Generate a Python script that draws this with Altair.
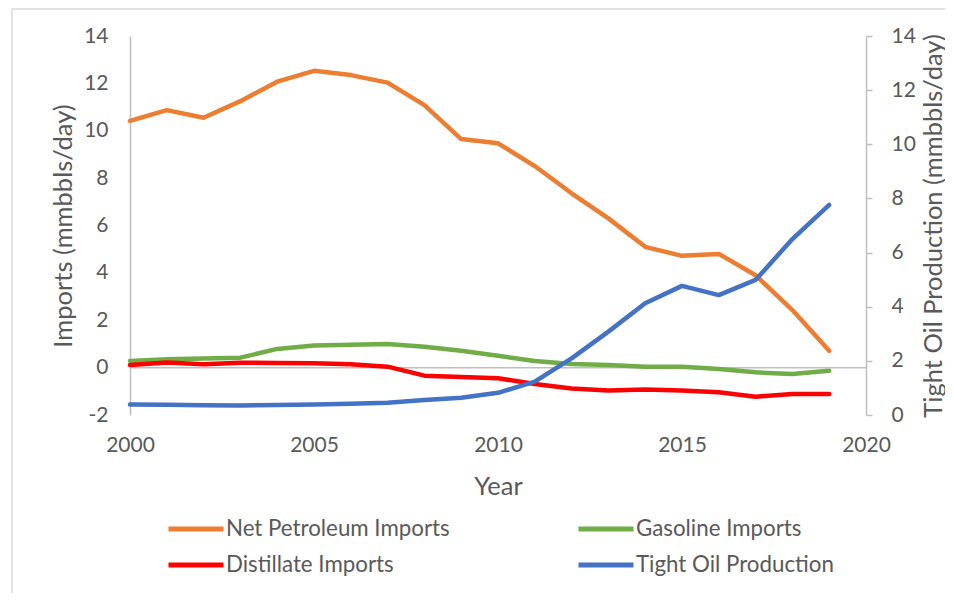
import altair as alt
import pandas as pd

years = list(range(2000, 2020))
net_petroleum = [10.42, 10.87, 10.55, 11.25, 12.07, 12.53, 12.35, 12.03, 11.08, 9.65,
                 9.47, 8.51, 7.36, 6.30, 5.10, 4.72, 4.80, 3.90, 2.43, 0.71]
gasoline = [0.28, 0.35, 0.39, 0.42, 0.79, 0.93, 0.97, 1.00, 0.88, 0.71,
            0.50, 0.28, 0.15, 0.11, 0.04, 0.04, -0.06, -0.20, -0.27, -0.13]
distillate = [0.11, 0.22, 0.14, 0.21, 0.19, 0.18, 0.14, 0.04, -0.34, -0.40,
              -0.45, -0.69, -0.88, -0.97, -0.92, -0.97, -1.04, -1.23, -1.11, -1.11]
tight_oil = [0.39, 0.38, 0.36, 0.35, 0.37, 0.39, 0.42, 0.45, 0.55, 0.64,
             0.82, 1.23, 2.09, 3.08, 4.13, 4.77, 4.43, 4.99, 6.50, 7.76]

series_names = ["Net Petroleum Imports", "Gasoline Imports", "Distillate Imports", "Tight Oil Production"]
series_colors = ["#ED7D31", "#70AD47", "#FF0000", "#4472C4"]
x_ticks = [2000, 2005, 2010, 2015, 2020]
left_ticks = [-2, 0, 2, 4, 6, 8, 10, 12, 14]
right_ticks = [0, 2, 4, 6, 8, 10, 12, 14]

left_df = pd.concat([
    pd.DataFrame({"Year": years, "Value": net_petroleum, "Series": series_names[0]}),
    pd.DataFrame({"Year": years, "Value": gasoline, "Series": series_names[1]}),
    pd.DataFrame({"Year": years, "Value": distillate, "Series": series_names[2]}),
])
right_df = pd.DataFrame({"Year": years, "Value": tight_oil, "Series": series_names[3]})

FONT = "Lato"
TXT = "#595959"
AX = "#BFBFBF"
TICK_FS = 21
TITLE_FS = 25.5

xenc = alt.X("Year:Q",
             scale=alt.Scale(domain=[2000, 2020], nice=False, zero=False),
             axis=alt.Axis(values=x_ticks, format="d", domain=False, ticks=False, grid=False,
                           labelFlush=False, labelPadding=19, labelFontSize=TICK_FS,
                           labelColor=TXT, labelFont=FONT,
                           title="Year", titleFontSize=TITLE_FS, titleColor=TXT, titleFont=FONT,
                           titleFontWeight="normal", titleY=71, titleBaseline="middle"))

color = alt.Color("Series:N",
                  scale=alt.Scale(domain=series_names, range=series_colors),
                  legend=alt.Legend(title=None, orient="none", legendX=36, legendY=481,
                                    direction="horizontal", columns=2, columnPadding=126,
                                    rowPadding=12, clipHeight=24,
                                    symbolType="stroke", symbolSize=3025, symbolStrokeWidth=5,
                                    labelFontSize=22.3, labelColor=TXT, labelFont=FONT,
                                    labelOffset=0, labelLimit=400))

line_props = dict(strokeWidth=4.5, strokeCap="round", strokeJoin="round")

left_scale = alt.Scale(domain=[-2, 14], nice=False)
left_axis = alt.Axis(values=left_ticks, domain=True, domainColor=AX, domainWidth=1.5,
                     ticks=False, grid=False, labelPadding=22, labelFontSize=TICK_FS,
                     labelColor=TXT, labelFont=FONT, labelExpr="'' + datum.value",
                     title="Imports (mmbbls/day)", titleFontSize=TITLE_FS, titleColor=TXT,
                     titleFont=FONT, titleFontWeight="normal",
                     titleX=-67, titleY=189.5, titleBaseline="middle", titleAngle=270)

zero_rule = alt.Chart(pd.DataFrame({"Value": [0]})).mark_rule(color=AX, strokeWidth=1.5).encode(
    y=alt.Y("Value:Q", scale=left_scale, axis=left_axis)
)

left_lines = alt.Chart(left_df).mark_line(**line_props).encode(
    x=xenc,
    y=alt.Y("Value:Q", scale=left_scale, axis=left_axis),
    color=color,
)

border = alt.Chart(pd.DataFrame({"z": [0]})).mark_rule(color="#D9D9D9", strokeWidth=1.5).encode(
    x=alt.value(-118), y=alt.value(-27), y2=alt.value(570)
)
border_top = alt.Chart(pd.DataFrame({"z": [0]})).mark_rule(color="#D9D9D9", strokeWidth=1.5).encode(
    x=alt.value(-118), x2=alt.value(820), y=alt.value(-27)
)

left_layer = alt.layer(border, border_top, zero_rule, left_lines)

right_line = alt.Chart(right_df).mark_line(**line_props).encode(
    x=xenc,
    y=alt.Y("Value:Q", scale=alt.Scale(domain=[0, 14], nice=False),
            axis=alt.Axis(orient="right", values=right_ticks, domain=True, domainColor=AX,
                          domainWidth=1.5, ticks=True, tickColor=AX, tickSize=6, tickWidth=1.5,
                          grid=False, labelPadding=19, labelFontSize=TICK_FS, labelColor=TXT,
                          labelFont=FONT,
                          title="Tight Oil Production (mmbbls/day)", titleFontSize=TITLE_FS,
                          titleColor=TXT, titleFont=FONT, titleFontWeight="normal",
                          titleX=67, titleY=189.5, titleBaseline="middle", titleAngle=270)),
    color=color,
)

chart = alt.layer(left_layer, right_line).resolve_scale(y="independent").properties(
    width=736, height=379,
    autosize=alt.AutoSizeParams(type="none"),
    padding={"left": 122, "top": 28, "right": 79, "bottom": 178},
).configure(font=FONT).configure_view(stroke=None)

chart.save("out.html", embed_options={"renderer": "svg", "actions": False})
